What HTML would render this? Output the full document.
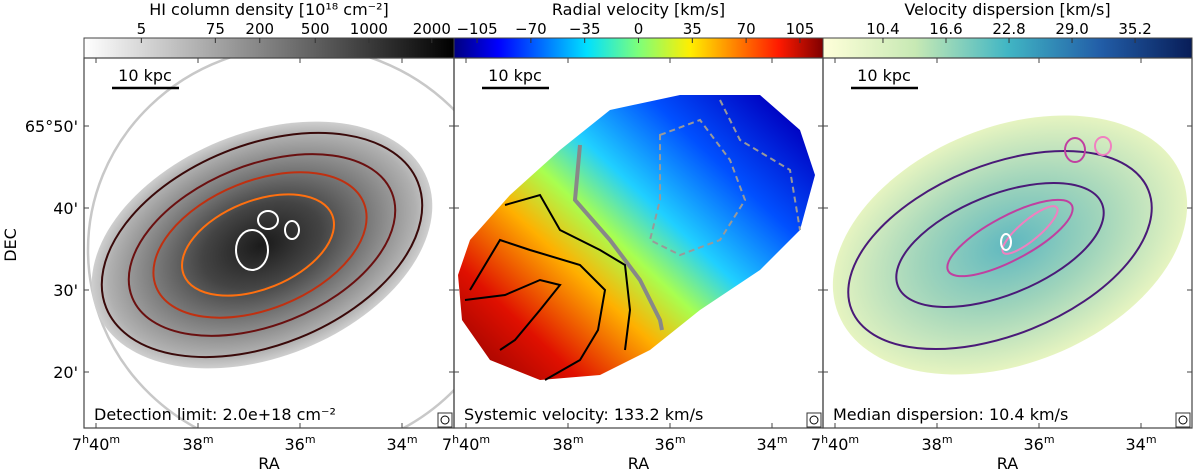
<!DOCTYPE html>
<html><head><meta charset="utf-8"><style>
body{margin:0;background:#fff;font-family:"DejaVu Sans","Liberation Sans",sans-serif;}
svg text{font-family:"DejaVu Sans","Liberation Sans",sans-serif;}
</style></head><body>
<svg width="1200" height="472" viewBox="0 0 1200 472">
<defs>
<linearGradient id="gGray" x1="0" x2="1"><stop offset="0" stop-color="#fff"/><stop offset="1" stop-color="#000"/></linearGradient>
<linearGradient id="gJet" x1="0" x2="1"><stop offset="0" stop-color="#00007f"/><stop offset=".12" stop-color="#0000ff"/><stop offset=".36" stop-color="#00e0ff"/><stop offset=".5" stop-color="#7dff7a"/><stop offset=".64" stop-color="#ffee00"/><stop offset=".88" stop-color="#ff1a00"/><stop offset="1" stop-color="#7f0000"/></linearGradient>
<linearGradient id="gYGB" x1="0" x2="1"><stop offset="0" stop-color="#ffffd9"/><stop offset=".25" stop-color="#c7e9b4"/><stop offset=".5" stop-color="#41b6c4"/><stop offset=".75" stop-color="#225ea8"/><stop offset="1" stop-color="#081d58"/></linearGradient>
<radialGradient id="rGray"><stop offset="0" stop-color="#1a1a1a"/><stop offset=".35" stop-color="#444"/><stop offset=".7" stop-color="#888"/><stop offset=".9" stop-color="#b0b0b0"/><stop offset="1" stop-color="#cfcfcf"/></radialGradient>
<linearGradient id="lVel" x1="0" y1="1" x2="1" y2="0.15"><stop offset="0" stop-color="#8a0000"/><stop offset=".2" stop-color="#e01000"/><stop offset=".38" stop-color="#ffb000"/><stop offset=".5" stop-color="#a8ff50"/><stop offset=".62" stop-color="#20d0ff"/><stop offset=".8" stop-color="#0050ff"/><stop offset="1" stop-color="#0000c0"/></linearGradient>
<radialGradient id="rDisp"><stop offset="0" stop-color="#5fb8c0"/><stop offset=".5" stop-color="#9fd4bb"/><stop offset="1" stop-color="#e6f4c0"/></radialGradient>
<clipPath id="c1"><rect x="84" y="58" width="370" height="370"/></clipPath>
<clipPath id="c2"><rect x="454" y="58" width="369" height="370"/></clipPath>
<clipPath id="c3"><rect x="823" y="58" width="369" height="370"/></clipPath>
</defs>
<g clip-path="url(#c1)">
<ellipse cx="300" cy="250" rx="212" ry="204" fill="none" stroke="#c8c8c8" stroke-width="2.5"/>
<ellipse cx="262" cy="245" rx="178" ry="112" transform="rotate(-22 262 245)" fill="url(#rGray)"/>
<ellipse cx="262" cy="245" rx="168" ry="100" transform="rotate(-22 262 245)" fill="none" stroke="#3a0a0a" stroke-width="2"/>
<ellipse cx="262" cy="245" rx="140" ry="80" transform="rotate(-22 262 245)" fill="none" stroke="#6a1010" stroke-width="2"/>
<ellipse cx="260" cy="245" rx="112" ry="64" transform="rotate(-22 260 245)" fill="none" stroke="#c03010" stroke-width="2"/>
<ellipse cx="258" cy="245" rx="80" ry="44" transform="rotate(-22 258 245)" fill="none" stroke="#ff7010" stroke-width="2"/>
<ellipse cx="252" cy="250" rx="16" ry="20" fill="none" stroke="#fff" stroke-width="2"/>
<ellipse cx="268" cy="220" rx="10" ry="9" fill="none" stroke="#fff" stroke-width="2"/>
<ellipse cx="292" cy="230" rx="7" ry="9" fill="none" stroke="#fff" stroke-width="2"/>
</g>
<g clip-path="url(#c2)">
<path d="M470 240 L510 195 L560 150 L610 110 L680 95 L760 95 L800 130 L815 175 L800 230 L760 270 L700 310 L650 350 L600 375 L540 380 L490 360 L462 320 L458 275 Z" fill="url(#lVel)"/>
<path d="M580 145 L575 200 L610 240 L640 280 L660 320 L662 330" fill="none" stroke="#888" stroke-width="4"/>
<path d="M660 135 L700 120 L730 160 L745 200 L720 240 L680 255 L650 240 L660 200 Z" fill="none" stroke="#999" stroke-width="2" stroke-dasharray="6,4"/>
<path d="M720 100 L740 140 L790 170 L800 230" fill="none" stroke="#999" stroke-width="2" stroke-dasharray="6,4"/>
<path d="M505 205 L540 195 L560 230 L600 250 L625 265 L630 310 L625 350" fill="none" stroke="#000" stroke-width="2"/>
<path d="M470 290 L500 240 L530 250 L580 265 L605 290 L598 330 L580 360 L545 380" fill="none" stroke="#000" stroke-width="2"/>
<path d="M465 300 L505 295 L540 280 L560 285 L540 310 L515 340 L500 350" fill="none" stroke="#000" stroke-width="2"/>
</g>
<g clip-path="url(#c3)">
<ellipse cx="1010" cy="245" rx="185" ry="118" transform="rotate(-22 1010 245)" fill="url(#rDisp)"/>
<ellipse cx="1000" cy="250" rx="160" ry="85" transform="rotate(-22 1000 250)" fill="none" stroke="#4a1a78" stroke-width="2"/>
<ellipse cx="1000" cy="245" rx="110" ry="50" transform="rotate(-22 1000 245)" fill="none" stroke="#4a1a78" stroke-width="2"/>
<ellipse cx="1010" cy="238" rx="70" ry="22" transform="rotate(-28 1010 238)" fill="none" stroke="#c040a0" stroke-width="2"/>
<ellipse cx="1030" cy="230" rx="35" ry="10" transform="rotate(-40 1030 230)" fill="none" stroke="#f080c0" stroke-width="2"/>
<ellipse cx="1075" cy="150" rx="10" ry="12" fill="none" stroke="#c040a0" stroke-width="2"/>
<ellipse cx="1103" cy="146" rx="8" ry="9" fill="none" stroke="#f080c0" stroke-width="2"/>
<ellipse cx="1006" cy="242" rx="5" ry="8" fill="none" stroke="#fff" stroke-width="2"/>
</g>
<g id="axes"></g>
</svg>
<script>
const raTicks=['40','38','36','34'];
const decTicks=["65°50'","40'","30'","20'"];
const cbLabels1=['5','75','200','500','1000','2000'];
const cbFrac1=[0.155,0.355,0.475,0.625,0.77,0.94];
const cbLabels2=['\u2212105','\u221270','\u221235','0','35','70','105'];
const cbVals2=[-105,-70,-35,0,35,70,105];
const cbLabels3=['10.4','16.6','22.8','29.0','35.2'];
const cbVals3=[10.4,16.6,22.8,29.0,35.2];
const NS='http://www.w3.org/2000/svg';
const ax=document.getElementById('axes');
function mk(t,a,txt){const e=document.createElementNS(NS,t);for(const k in a)e.setAttribute(k,a[k]);if(txt!==undefined)e.textContent=txt;ax.appendChild(e);return e;}
const panels=[[84,454],[454,823],[823,1192]];
const titles=['HI column density [10¹⁸ cm⁻²]','Radial velocity [km/s]','Velocity dispersion [km/s]'];
const grads=['gGray','gJet','gYGB'];
const notes=['Detection limit: 2.0e+18 cm⁻²','Systemic velocity: 133.2 km/s','Median dispersion: 10.4 km/s'];
const yTop=58,yBot=428;
function cbX(p,f){return panels[p][0]+f*(panels[p][1]-panels[p][0]);}
panels.forEach((P,i)=>{
 const x0=P[0],x1=P[1];
 const cb=mk('rect',{x:x0,y:38,width:x1-x0,height:20,fill:'url(#'+grads[i]+')',stroke:'#444','stroke-width':1});
 
 
 const t=mk('text',{x:(x0+x1)/2,y:15,'text-anchor':'middle','font-size':16},titles[i]);
 
 
 let labs,fr;
 if(i===0){labs=cbLabels1;fr=cbFrac1;}
 else if(i===1){labs=cbLabels2;fr=cbVals2.map(v=>(v+120)/240);}
 else {labs=cbLabels3;fr=cbVals3.map(v=>(v-4.5)/36.3);}
 labs.forEach((l,j)=>{const x=cbX(i,fr[j]);
  mk('line',{x1:x,x2:x,y1:38,y2:43,stroke:'#333'});
  const e=mk('text',{x:x,y:34,'text-anchor':'middle','font-size':15},l);
  
  });
 const fr2=mk('rect',{x:x0,y:yTop,width:x1-x0,height:yBot-yTop,fill:'none',stroke:'#444','stroke-width':1.2});
 
 
 mk('line',{x1:x0+28,x2:x0+95,y1:88,y2:88,stroke:'#000','stroke-width':2.5});
 const sb=mk('text',{x:x0+61,y:81,'text-anchor':'middle','font-size':16},'10 kpc');
 
 
 const n=mk('text',{x:x0+10,y:420,'font-size':16},notes[i]);
 
 
 mk('rect',{x:x1-16,y:yBot-15,width:14,height:14,fill:'#fff',stroke:'#333'});
 mk('circle',{cx:x1-9,cy:yBot-8,r:4,fill:'none',stroke:'#000'});
 raTicks.forEach((r,j)=>{const x=x0+12+j*102;
  mk('line',{x1:x,x2:x,y1:yBot,y2:yBot-5,stroke:'#444'});mk('line',{x1:x,x2:x,y1:yTop,y2:yTop+5,stroke:'#444'});
  const lab=mk('text',{x:x,y:450,'text-anchor':'middle','font-size':16});
  
  
  if(j===0){lab.innerHTML='7<tspan dy="-7" font-size="11">h</tspan><tspan dy="7">40</tspan><tspan dy="-7" font-size="11">m</tspan>';}
  else lab.innerHTML=r+'<tspan dy="-7" font-size="11">m</tspan>';});
 const ra=mk('text',{x:(x0+x1)/2,y:469,'text-anchor':'middle','font-size':16},'RA');
 
 
 decTicks.forEach((d,j)=>{const y=126+j*82;
  mk('line',{x1:x0,x2:x0+5,y1:y,y2:y,stroke:'#444'});mk('line',{x1:x1,x2:x1-5,y1:y,y2:y,stroke:'#444'});
  if(i===0){const e=mk('text',{x:78,y:y+6,'text-anchor':'end','font-size':16},d);
   
   }});
});
const dy=mk('text',{x:16,y:245,'text-anchor':'middle','font-size':16,transform:'rotate(-90 16 245)'},'DEC');


</script>
</body></html>
